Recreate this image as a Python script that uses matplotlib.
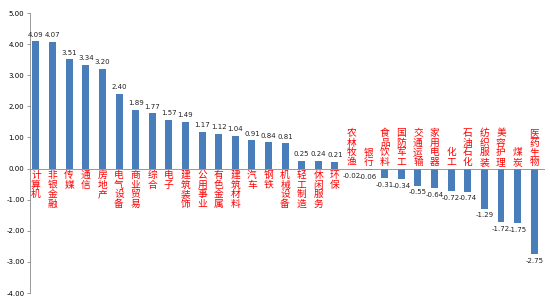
import matplotlib.pyplot as plt
import numpy as np

plt.rcParams['font.family'] = ['Noto Sans CJK SC', 'DejaVu Sans']

industries = ['计算机', '非银金融', '传媒', '通信', '房地产', '电气设备', '商业贸易', '综合',
              '电子', '建筑装饰', '公用事业', '有色金属', '建筑材料', '汽车', '钢铁', '机械设备',
              '轻工制造', '休闲服务', '环保', '农林牧渔', '银行', '食品饮料', '国防军工',
              '交通运输', '家用电器', '化工', '石油石化', '纺织服装', '美容护理', '煤炭', '医药生物']
changes = [4.09, 4.07, 3.51, 3.34, 3.20, 2.40, 1.89, 1.77, 1.57, 1.49, 1.17, 1.12, 1.04,
           0.91, 0.84, 0.81, 0.25, 0.24, 0.21, -0.02, -0.06, -0.31, -0.34, -0.55, -0.64,
           -0.72, -0.74, -1.29, -1.72, -1.75, -2.75]
yticks = [5, 4, 3, 2, 1, 0, -1, -2, -3, -4]

fig = plt.figure(figsize=(5.5, 2.97), dpi=100)
ax = fig.add_axes([30 / 550, 4 / 297, 515 / 550, 280 / 297])

x = np.arange(len(industries))
ax.bar(x, changes, width=0.42, color='#4a7ebb', zorder=2)

ax.set_xlim(-0.36, len(industries) - 0.35)
ax.set_ylim(-4, 5)
ax.set_yticks(yticks)
ax.set_yticklabels(['%.2f' % v for v in yticks], fontsize=5, family='DejaVu Sans')
ax.tick_params(axis='y', length=2, width=0.6, color='#888888', pad=2)
ax.set_xticks([])

for s in ['top', 'right', 'bottom']:
    ax.spines[s].set_visible(False)
ax.spines['left'].set_color('#888888')
ax.spines['left'].set_linewidth(0.6)
ax.axhline(0, color='#888888', linewidth=0.6, zorder=3)

for i, (name, v) in enumerate(zip(industries, changes)):
    vert = '\n'.join(name)
    if v >= 0:
        ax.text(i, -0.05, vert, color='red', fontsize=7, ha='center', va='top',
                linespacing=0.95)
        ax.text(i, v + 0.12, '%.2f' % v, fontsize=5, ha='center', va='bottom',
                family='DejaVu Sans', color='#222222')
    else:
        ax.text(i, 0.05, vert, color='red', fontsize=7, ha='center', va='bottom',
                linespacing=0.95)
        ax.text(i, v - 0.12, '%.2f' % v, fontsize=5, ha='center', va='top',
                family='DejaVu Sans', color='#222222')

fig.savefig('out.png', dpi=100)
